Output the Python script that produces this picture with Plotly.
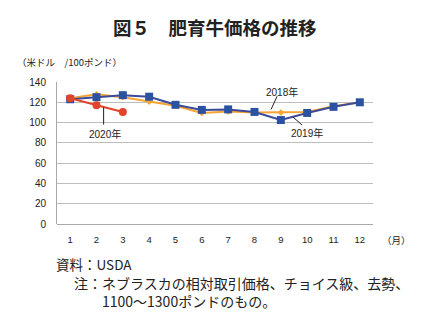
import plotly.graph_objects as go

months = [1, 2, 3, 4, 5, 6, 7, 8, 9, 10, 11, 12]
month_labels = [str(m) for m in months]
y2018 = [124, 128, 125, 120.5, 116.5, 109.5, 111, 110, 110, 110.5, 116, 120]
y2019 = [123, 125, 127, 125.5, 117.5, 112.5, 113, 110.5, 102.5, 109.5, 115.5, 120]
y2020 = [124, 117, 110.5]
yticks = [0, 20, 40, 60, 80, 100, 120, 140]

FONT = "Liberation Sans, Arial, Noto Sans CJK JP, sans-serif"
JP = "Noto Sans CJK JP, sans-serif"

W, H = 429, 325
ML, MR, MT, MB = 57, 56, 82, 101
PW, PH = W - ML - MR, H - MT - MB

fig = go.Figure()
fig.add_trace(go.Scatter(
    x=months, y=y2018, mode="lines+markers", name="2018年",
    line=dict(color="#F5A433", width=2),
    marker=dict(symbol="diamond", size=5, color="#F5A433"),
))
fig.add_trace(go.Scatter(
    x=months, y=y2019, mode="lines+markers", name="2019年",
    line=dict(color="#3C4A9C", width=2),
    marker=dict(symbol="square", size=8, color="#2A52A0"),
))
fig.add_trace(go.Scatter(
    x=months[:len(y2020)], y=y2020, mode="lines+markers", name="2020年",
    line=dict(color="#E2442B", width=2),
    marker=dict(symbol="circle", size=8, color="#E2442B"),
))

fig.update_layout(
    width=W, height=H,
    margin=dict(l=ML, r=MR, t=MT, b=MB),
    paper_bgcolor="white", plot_bgcolor="white",
    showlegend=False,
    font=dict(family=FONT, size=10, color="#222"),
)
fig.update_xaxes(
    range=[0.5, 12.5], tickvals=months, ticktext=month_labels,
    showgrid=False, zeroline=False, showline=False,
    ticks="", ticklabelstandoff=8, tickfont=dict(size=9.5),
)
fig.update_yaxes(
    range=[0, 140], tickvals=yticks, showgrid=True, gridcolor="#BDBDBD",
    gridwidth=1, zeroline=True, zerolinecolor="#A8A8A8", zerolinewidth=1,
    showline=True, linecolor="#A8A8A8", linewidth=1,
    ticks="", ticklabelstandoff=8, tickfont=dict(size=10),
)

# series labels with leader lines
labels = [
    ("2018年", 9.05, 130, (8.86, 126, 8.63, 113)),
    ("2019年", 10.0, 90, (9.46, 105.5, 9.81, 97.5)),
    ("2020年", 2.31, 88.5, (2.27, 115, 2.27, 98)),
]
for text, lx, ly, (x0, y0, x1, y1) in labels:
    fig.add_annotation(x=lx, y=ly, xref="x", yref="y", text=text,
                       showarrow=False, font=dict(family=FONT, size=10, color="#222"))
    fig.add_shape(type="line", xref="x", yref="y", x0=x0, y0=y0, x1=x1, y1=y1,
                  line=dict(color="#222", width=1))


def px_ann(text, x, y, size, xanchor="left"):
    fig.add_annotation(x=(x - ML) / PW, y=(H - MB - y) / PH, xref="paper", yref="paper",
                       text=text, showarrow=False, xanchor=xanchor, yanchor="middle",
                       align="left", font=dict(family=JP, size=size, color="#222"))


px_ann("<b>図５　肥育牛価格の推移</b>", 215, 27, 18.5, xanchor="center")
px_ann("（米ドル　/100ポンド）", 15, 62, 9.5)
px_ann("（月）", 380, 240, 9.5)
px_ann("資料：USDA", 54, 264, 13.5)
px_ann("注：ネブラスカの相対取引価格、チョイス級、去勢、<br>　　1100～1300ポンドのもの。", 72, 292, 14)

fig.write_html("out.html")
